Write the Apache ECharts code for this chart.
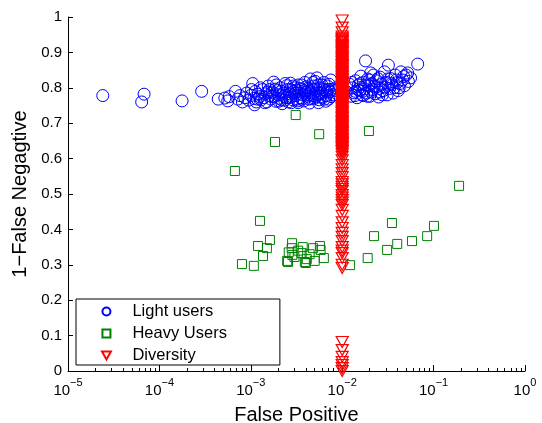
<!DOCTYPE html>
<html>
<head>
<meta charset="utf-8">
<script src="https://cdn.jsdelivr.net/npm/echarts@6/dist/echarts.min.js"></script>
<style>
  html, body { margin: 0; padding: 0; background: #fff; }
  #chart { width: 542px; height: 423px; }
</style>
</head>
<body>
<div id="chart"></div>
<script>
// 1-False Negative vs False Positive, three user groups

const seriesNames = ['Light users', 'Heavy Users', 'Diversity'];

// [false positive, 1 - false negative]
const lightUsers = [
  [2.4e-5, 0.778], [6.8e-5, 0.782], [6.4e-5, 0.760], [1.77e-4, 0.763], [2.9e-4, 0.790],
  [4.4e-4, 0.768], [5.2e-4, 0.771], [5.6e-4, 0.763], [5.8e-4, 0.775], [6.8e-4, 0.790],
  [7.2e-4, 0.768], [7.6e-4, 0.778], [8.1e-4, 0.760], [8.6e-4, 0.772], [9.0e-4, 0.785],
  [9.5e-4, 0.765],
  [1.0e-3, 0.778], [1.05e-3, 0.812], [1.08e-3, 0.770], [1.12e-3, 0.790], [1.15e-3, 0.760],
  [1.2e-3, 0.782], [1.25e-3, 0.775], [1.3e-3, 0.766], [1.35e-3, 0.795], [1.4e-3, 0.772],
  [1.45e-3, 0.783], [1.5e-3, 0.760], [1.55e-3, 0.805], [1.6e-3, 0.778], [1.66e-3, 0.768],
  [1.72e-3, 0.788], [1.78e-3, 0.816], [1.82e-3, 0.775], [1.88e-3, 0.762], [1.95e-3, 0.792],
  [2.0e-3, 0.780], [2.05e-3, 0.770], [2.1e-3, 0.800], [2.18e-3, 0.766], [2.25e-3, 0.785],
  [2.3e-3, 0.776], [2.38e-3, 0.812], [2.45e-3, 0.772], [2.5e-3, 0.795], [2.58e-3, 0.760],
  [2.65e-3, 0.783], [2.72e-3, 0.813], [2.8e-3, 0.775], [2.88e-3, 0.766], [2.95e-3, 0.790],
  [3.0e-3, 0.800], [3.1e-3, 0.778], [3.2e-3, 0.768], [3.3e-3, 0.808], [3.4e-3, 0.785],
  [3.5e-3, 0.772], [3.6e-3, 0.795], [3.7e-3, 0.780], [3.8e-3, 0.763], [3.9e-3, 0.815],
  [4.0e-3, 0.788], [4.1e-3, 0.776], [4.2e-3, 0.798], [4.35e-3, 0.768], [4.5e-3, 0.825],
  [4.6e-3, 0.786], [4.75e-3, 0.778], [4.9e-3, 0.805], [5.0e-3, 0.770], [5.15e-3, 0.792],
  [5.3e-3, 0.828], [5.45e-3, 0.780], [5.6e-3, 0.766], [5.75e-3, 0.800], [5.9e-3, 0.786],
  [6.1e-3, 0.772], [6.3e-3, 0.815], [6.5e-3, 0.792], [6.7e-3, 0.778], [6.9e-3, 0.805],
  [7.1e-3, 0.768], [7.3e-3, 0.788], [7.5e-3, 0.822], [7.8e-3, 0.796], [8.0e-3, 0.780],
  [1.1e-3, 0.752], [2.2e-3, 0.755], [3.3e-3, 0.758], [4.4e-3, 0.757], [5.5e-3, 0.758],
  [6.6e-3, 0.762], [2.7e-3, 0.795], [3.6e-3, 0.808], [4.8e-3, 0.815], [6.0e-3, 0.808],
  [7.0e-3, 0.795], [1.6e-3, 0.795], [1.9e-3, 0.808], [3.05e-3, 0.785], [4.25e-3, 0.790],
  [5.8e-3, 0.775], [8.5e-3, 0.800], [9.0e-3, 0.780], [1.1e-2, 0.790], [1.2e-2, 0.810],
  [1.02e-3, 0.795], [1.18e-3, 0.768], [1.28e-3, 0.800], [1.42e-3, 0.758], [1.52e-3, 0.788],
  [1.7e-3, 0.775], [1.85e-3, 0.796], [2.02e-3, 0.762], [2.15e-3, 0.790], [2.35e-3, 0.765],
  [2.48e-3, 0.806], [2.62e-3, 0.772], [2.78e-3, 0.758], [2.92e-3, 0.805], [3.15e-3, 0.793],
  [3.25e-3, 0.763], [3.45e-3, 0.798], [3.65e-3, 0.768], [3.85e-3, 0.792], [4.05e-3, 0.803],
  [4.3e-3, 0.780], [4.55e-3, 0.770], [4.7e-3, 0.796], [5.05e-3, 0.818], [5.2e-3, 0.775],
  [5.5e-3, 0.808], [5.7e-3, 0.783], [6.2e-3, 0.795], [6.4e-3, 0.768], [6.8e-3, 0.788],
  [7.2e-3, 0.810], [7.6e-3, 0.775], [8.2e-3, 0.792],
  [1.25e-2, 0.776], [1.3e-2, 0.800], [1.35e-2, 0.786], [1.4e-2, 0.820], [1.45e-2, 0.772],
  [1.5e-2, 0.808], [1.55e-2, 0.792], [1.6e-2, 0.833], [1.65e-2, 0.780], [1.7e-2, 0.815],
  [1.75e-2, 0.797], [1.8e-2, 0.876], [1.85e-2, 0.785], [1.9e-2, 0.825], [1.95e-2, 0.805],
  [2.0e-2, 0.776], [2.05e-2, 0.842], [2.1e-2, 0.812], [2.15e-2, 0.795], [2.2e-2, 0.836],
  [2.3e-2, 0.783], [2.35e-2, 0.820], [2.4e-2, 0.803], [2.5e-2, 0.774], [2.6e-2, 0.830],
  [2.7e-2, 0.810], [2.8e-2, 0.792], [2.9e-2, 0.845], [3.0e-2, 0.815], [3.2e-2, 0.864],
  [3.3e-2, 0.798], [3.4e-2, 0.826], [3.5e-2, 0.808], [3.6e-2, 0.785], [3.8e-2, 0.836],
  [4.0e-2, 0.815], [4.2e-2, 0.800], [4.4e-2, 0.845], [4.6e-2, 0.822], [4.8e-2, 0.806],
  [5.0e-2, 0.836], [5.3e-2, 0.818], [5.6e-2, 0.828], [6.7e-2, 0.867], [1.7e-2, 0.778],
  [2.6e-2, 0.788], [3.1e-2, 0.780], [1.4e-2, 0.790], [4.1e-2, 0.792],
  [1.28e-2, 0.815], [1.38e-2, 0.778], [1.48e-2, 0.795], [1.58e-2, 0.812], [1.68e-2, 0.790],
  [1.78e-2, 0.808], [1.88e-2, 0.776], [1.98e-2, 0.822], [2.08e-2, 0.788], [2.25e-2, 0.805],
  [2.45e-2, 0.826], [2.55e-2, 0.798], [2.75e-2, 0.780], [2.95e-2, 0.802], [3.15e-2, 0.825],
  [3.45e-2, 0.812], [3.7e-2, 0.800], [3.9e-2, 0.822], [4.3e-2, 0.812], [4.7e-2, 0.832],
  [5.2e-2, 0.842]
];

const heavyUsers = [
  [6.7e-4, 0.565], [1.84e-3, 0.647], [3.1e-3, 0.723], [5.6e-3, 0.669], [1.96e-2, 0.678],
  [0.19, 0.523],
  [1.26e-3, 0.424], [1.62e-3, 0.370], [1.2e-3, 0.353], [1.5e-3, 0.347], [1.36e-3, 0.325],
  [8.0e-4, 0.302], [1.08e-3, 0.297],
  [2.83e-3, 0.361], [2.8e-3, 0.347], [2.5e-3, 0.311], [2.55e-3, 0.308], [2.85e-3, 0.328],
  [3.7e-3, 0.350], [3.6e-3, 0.333], [3.9e-3, 0.308], [4.0e-3, 0.305], [4.8e-3, 0.347],
  [5.7e-3, 0.353], [5.8e-3, 0.342], [5.0e-3, 0.311], [6.3e-3, 0.319], [4.1e-3, 0.316],
  [3.0e-3, 0.322], [2.6e-3, 0.335], [3.3e-3, 0.340], [4.4e-3, 0.330],
  [1.22e-2, 0.299], [1.9e-2, 0.319], [2.23e-2, 0.381], [3.1e-2, 0.342], [3.5e-2, 0.418],
  [4.0e-2, 0.359], [5.8e-2, 0.367], [8.5e-2, 0.381], [0.101, 0.410]
];

// every diversity point sits at false positive = 0.01
const diversityX = 0.01;
const diversityY = [
  0.990, 0.970, 0.957, 0.945, 0.940, 0.934, 0.929, 0.921, 0.916, 0.909,
  0.903, 0.898, 0.890, 0.885, 0.877, 0.872, 0.864, 0.859, 0.852, 0.845,
  0.840, 0.834, 0.826, 0.821, 0.814, 0.807, 0.802, 0.795, 0.788, 0.783,
  0.776, 0.771, 0.763, 0.758, 0.751, 0.744, 0.739, 0.732, 0.727, 0.719,
  0.714, 0.706, 0.701, 0.694, 0.688, 0.682, 0.675, 0.668, 0.663, 0.656,
  0.651, 0.644, 0.637, 0.632, 0.625, 0.618,
  0.937, 0.931, 0.925, 0.918, 0.912, 0.906, 0.900, 0.894, 0.887, 0.881,
  0.874, 0.868, 0.862, 0.855, 0.849, 0.843, 0.837, 0.830, 0.824, 0.817,
  0.811, 0.805, 0.798, 0.792, 0.786, 0.779, 0.773, 0.767, 0.761, 0.754,
  0.748, 0.742, 0.735, 0.729, 0.722, 0.716, 0.710, 0.704, 0.697, 0.691,
  0.685, 0.678, 0.672, 0.666, 0.659, 0.653, 0.647, 0.641, 0.634, 0.628,
  0.621, 0.612,
  0.605, 0.595, 0.582, 0.570, 0.559, 0.548, 0.534, 0.527, 0.520, 0.514,
  0.508, 0.497, 0.490, 0.483, 0.476, 0.469, 0.455, 0.438, 0.420, 0.404,
  0.390, 0.379, 0.367, 0.350, 0.340, 0.333, 0.319, 0.300, 0.291,
  0.082, 0.059, 0.040, 0.025, 0.017, 0.008, 0.000
];

const yTicks = [0, 0.1, 0.2, 0.3, 0.4, 0.5, 0.6, 0.7, 0.8, 0.9, 1];
const xDecades = [1e-5, 1e-4, 1e-3, 1e-2, 1e-1, 1];
const xMinorTicks = [];
xDecades.slice(0, -1).forEach(d => {
  for (let k = 2; k <= 9; k++) xMinorTicks.push(d * k);
});

const font = '"Liberation Sans", Arial, Helvetica, sans-serif';

const hollow = (color, w) => ({
  color: 'rgba(0,0,0,0)',
  borderColor: color,
  borderWidth: w || 1,
  opacity: 1
});

const chart = echarts.init(document.getElementById('chart'));

const option = {
  animation: false,
  backgroundColor: '#fff',
  textStyle: { fontFamily: font },
  grid: { left: 68, right: 17, top: 17, bottom: 52, containLabel: false, outerBoundsMode: 'none' },
  legend: {
    orient: 'vertical',
    left: 76,
    top: 299,
    padding: [4, 53, 1, 25],
    itemWidth: 42,
    itemHeight: 8,
    itemGap: 5,
    symbolKeepAspect: true,
    borderColor: '#000',
    borderWidth: 1,
    backgroundColor: '#fff',
    selectedMode: false,
    textStyle: { fontFamily: font, fontSize: 16.5, color: '#000', lineHeight: 16 },
    data: [
      { name: seriesNames[0], icon: 'circle' },
      { name: seriesNames[1], icon: 'path://M0,0L10,0L10,10L0,10Z' },
      { name: seriesNames[2], icon: 'path://M0,0L10,0L5,9Z' }
    ]
  },
  xAxis: [
    {
      type: 'log',
      logBase: 10,
      min: 1e-5,
      max: 1,
      name: 'False Positive',
      nameLocation: 'middle',
      nameGap: 34,
      nameTextStyle: { fontFamily: font, fontSize: 20, color: '#000' },
      axisLine: { show: true, onZero: false, lineStyle: { color: '#000', width: 1 } },
      axisTick: { show: true, inside: true, length: 6, lineStyle: { color: '#000' }, customValues: xDecades },
      splitLine: { show: false },
      axisLabel: {
        margin: 6,
        customValues: xDecades,
        formatter: v => {
          const e = Math.round(Math.log10(v));
          return '{b|10}{e|' + (e < 0 ? '\u2212' + (-e) : e) + '}';
        },
        rich: {
          b: { fontFamily: font, fontSize: 15, color: '#000', lineHeight: 21, verticalAlign: 'bottom' },
          e: { fontFamily: font, fontSize: 11, color: '#000', lineHeight: 11, verticalAlign: 'top' }
        }
      }
    },
    {
      type: 'log',
      logBase: 10,
      min: 1e-5,
      max: 1,
      position: 'bottom',
      axisLine: { show: false },
      axisLabel: { show: false },
      splitLine: { show: false },
      axisTick: { show: true, inside: true, length: 3, lineStyle: { color: '#000' }, customValues: xMinorTicks }
    }
  ],
  yAxis: {
    type: 'value',
    min: 0,
    max: 1,
    interval: 0.1,
    name: '1\u2212False Negagtive',
    nameLocation: 'middle',
    nameGap: 34,
    nameTextStyle: { fontFamily: font, fontSize: 20, color: '#000' },
    axisLine: { show: true, lineStyle: { color: '#000', width: 1 } },
    axisTick: { show: true, inside: true, length: 5, lineStyle: { color: '#000' } },
    splitLine: { show: false },
    axisLabel: {
      margin: 6,
      fontFamily: font,
      fontSize: 15,
      color: '#000',
      customValues: yTicks,
      formatter: v => String(Math.round(v * 10) / 10)
    }
  },
  series: [
    {
      name: seriesNames[0],
      type: 'scatter',
      symbol: 'circle',
      symbolSize: 12,
      data: lightUsers,
      itemStyle: hollow('#0000ff'),
      emphasis: { disabled: true },
      z: 2
    },
    {
      name: seriesNames[1],
      type: 'scatter',
      symbol: 'rect',
      symbolSize: 9,
      data: heavyUsers,
      itemStyle: hollow('#008000'),
      emphasis: { disabled: true },
      z: 3
    },
    {
      name: seriesNames[2],
      type: 'scatter',
      symbol: 'triangle',
      symbolRotate: 180,
      symbolSize: [12, 11],
      data: diversityY.map(y => [diversityX, y]),
      itemStyle: hollow('#ff0000', 1.2),
      emphasis: { disabled: true },
      z: 4
    }
  ]
};

chart.setOption(option);
</script>
</body>
</html>
